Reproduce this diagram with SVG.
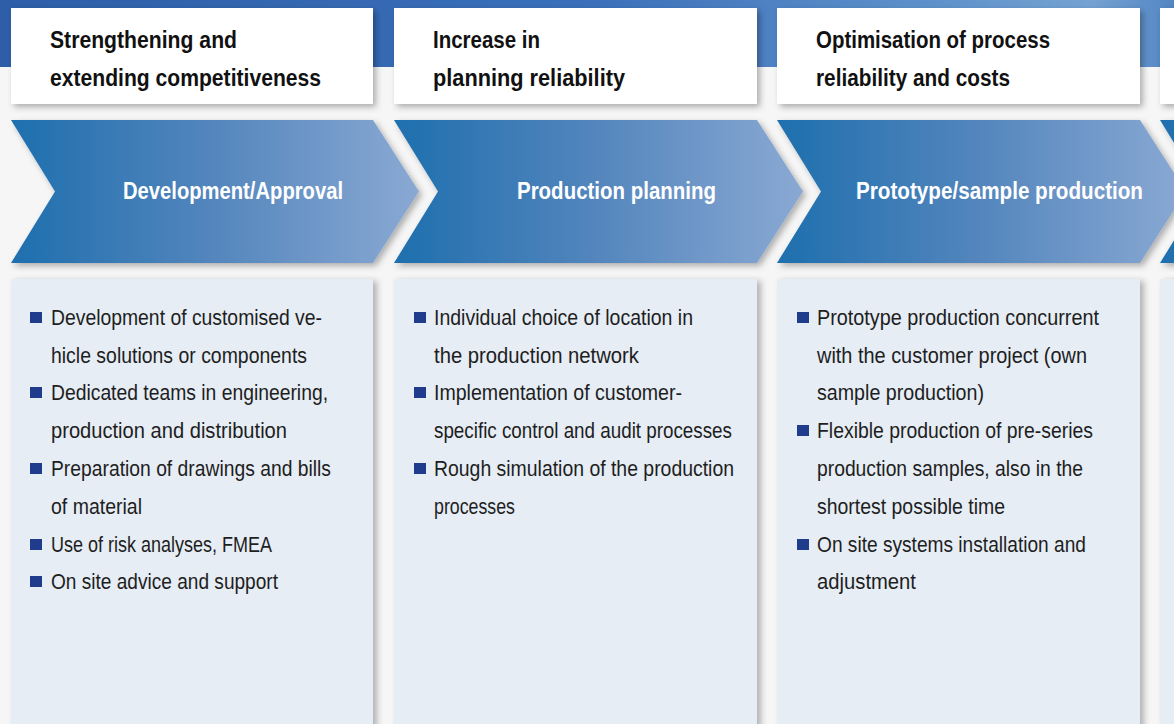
<svg xmlns="http://www.w3.org/2000/svg" width="1174" height="724" viewBox="0 0 1174 724">
<defs>
<linearGradient id="band" x1="0" y1="0" x2="1" y2="0">
<stop offset="0" stop-color="#2d5ea7"/>
<stop offset="0.5" stop-color="#3a70ba"/>
<stop offset="0.8" stop-color="#5f92cb"/>
<stop offset="0.93" stop-color="#74a2d2"/>
<stop offset="1" stop-color="#5386c3"/>
</linearGradient>
<linearGradient id="chev" x1="0" y1="0" x2="1" y2="0">
<stop offset="0" stop-color="#1e6fae"/>
<stop offset="0.5" stop-color="#5486bd"/>
<stop offset="1" stop-color="#8aa9d3"/>
</linearGradient>
<filter id="sh" x="-10%" y="-10%" width="130%" height="140%">
<feDropShadow dx="3" dy="3" stdDeviation="3" flood-color="#000" flood-opacity="0.3"/>
</filter>
<filter id="sh2" x="-10%" y="-10%" width="130%" height="130%">
<feDropShadow dx="4" dy="2" stdDeviation="3" flood-color="#000" flood-opacity="0.28"/>
</filter>
</defs>
<style>
.hdr{fill:#ffffff}
.hdrt{font-family:"Liberation Sans",Arial,sans-serif;font-weight:bold;font-size:23px;fill:#111111}
.chevt{font-family:"Liberation Sans",Arial,sans-serif;font-weight:bold;font-size:23px;fill:#ffffff;text-anchor:middle}
.panel{fill:#e6edf5}
.bt{font-family:"Liberation Sans",Arial,sans-serif;font-size:22px;fill:#1e1e1e}
.bul{fill:#1f3d8c}
</style>
<rect x="0" y="0" width="1174" height="724" fill="#f6f6f6"/>
<rect x="0" y="0" width="1174" height="67" fill="url(#band)"/>

<g id="col1">
<g id="header1" filter="url(#sh)"><rect class="hdr" x="11" y="8" width="362" height="96"/></g>
<text class="hdrt" x="50" y="48" textLength="187" lengthAdjust="spacingAndGlyphs">Strengthening and</text>
<text class="hdrt" x="50" y="86" textLength="271" lengthAdjust="spacingAndGlyphs">extending competitiveness</text>
<g id="chevron1" filter="url(#sh)"><path d="M11,120 H373 L419,191.5 L373,263 H11 L55,191.5 Z" fill="url(#chev)"/></g>
<text class="chevt" x="233" y="199" textLength="220" lengthAdjust="spacingAndGlyphs">Development/Approval</text>
<g id="panel1" filter="url(#sh2)"><rect class="panel" x="11" y="279" width="362" height="460"/></g>
<rect class="bul" x="30" y="312" width="12" height="11"/>
<text class="bt" x="51" y="325" textLength="271" lengthAdjust="spacingAndGlyphs">Development of customised ve-</text>
<text class="bt" x="51" y="363" textLength="256" lengthAdjust="spacingAndGlyphs">hicle solutions or components</text>
<rect class="bul" x="30" y="387" width="12" height="11"/>
<text class="bt" x="51" y="400" textLength="277" lengthAdjust="spacingAndGlyphs">Dedicated teams in engineering,</text>
<text class="bt" x="51" y="438" textLength="236" lengthAdjust="spacingAndGlyphs">production and distribution</text>
<rect class="bul" x="30" y="463" width="12" height="11"/>
<text class="bt" x="51" y="476" textLength="280" lengthAdjust="spacingAndGlyphs">Preparation of drawings and bills</text>
<text class="bt" x="51" y="514" textLength="91" lengthAdjust="spacingAndGlyphs">of material</text>
<rect class="bul" x="30" y="539" width="12" height="11"/>
<text class="bt" x="51" y="552" textLength="221" lengthAdjust="spacingAndGlyphs">Use of risk analyses, FMEA</text>
<rect class="bul" x="30" y="576" width="12" height="11"/>
<text class="bt" x="51" y="589" textLength="227" lengthAdjust="spacingAndGlyphs">On site advice and support</text>
</g>

<g id="col2">
<g id="header2" filter="url(#sh)"><rect class="hdr" x="394" y="8" width="363" height="96"/></g>
<text class="hdrt" x="433" y="48" textLength="107" lengthAdjust="spacingAndGlyphs">Increase in</text>
<text class="hdrt" x="433" y="86" textLength="192" lengthAdjust="spacingAndGlyphs">planning reliability</text>
<g id="chevron2" filter="url(#sh)"><path d="M394,120 H757 L803,191.5 L757,263 H394 L438,191.5 Z" fill="url(#chev)"/></g>
<text class="chevt" x="616.5" y="199" textLength="199" lengthAdjust="spacingAndGlyphs">Production planning</text>
<g id="panel2" filter="url(#sh2)"><rect class="panel" x="394" y="279" width="363" height="460"/></g>
<rect class="bul" x="414" y="312" width="12" height="11"/>
<text class="bt" x="434" y="325" textLength="259" lengthAdjust="spacingAndGlyphs">Individual choice of location in</text>
<text class="bt" x="434" y="363" textLength="205" lengthAdjust="spacingAndGlyphs">the production network</text>
<rect class="bul" x="414" y="387" width="12" height="11"/>
<text class="bt" x="434" y="400" textLength="248" lengthAdjust="spacingAndGlyphs">Implementation of customer-</text>
<text class="bt" x="434" y="438" textLength="298" lengthAdjust="spacingAndGlyphs">specific control and audit processes</text>
<rect class="bul" x="414" y="463" width="12" height="11"/>
<text class="bt" x="434" y="476" textLength="300" lengthAdjust="spacingAndGlyphs">Rough simulation of the production</text>
<text class="bt" x="434" y="514" textLength="81" lengthAdjust="spacingAndGlyphs">processes</text>
</g>

<g id="col3">
<g id="header3" filter="url(#sh)"><rect class="hdr" x="777" y="8" width="363" height="96"/></g>
<text class="hdrt" x="816" y="48" textLength="234" lengthAdjust="spacingAndGlyphs">Optimisation of process</text>
<text class="hdrt" x="816" y="86" textLength="194" lengthAdjust="spacingAndGlyphs">reliability and costs</text>
<g id="chevron3" filter="url(#sh)"><path d="M777,120 H1140 L1186,191.5 L1140,263 H777 L821,191.5 Z" fill="url(#chev)"/></g>
<text class="chevt" x="999.5" y="199" textLength="287" lengthAdjust="spacingAndGlyphs">Prototype/sample production</text>
<g id="panel3" filter="url(#sh2)"><rect class="panel" x="777" y="279" width="363" height="460"/></g>
<rect class="bul" x="797" y="312" width="12" height="11"/>
<text class="bt" x="817" y="325" textLength="282" lengthAdjust="spacingAndGlyphs">Prototype production concurrent</text>
<text class="bt" x="817" y="363" textLength="270" lengthAdjust="spacingAndGlyphs">with the customer project (own</text>
<text class="bt" x="817" y="400" textLength="167" lengthAdjust="spacingAndGlyphs">sample production)</text>
<rect class="bul" x="797" y="425" width="12" height="11"/>
<text class="bt" x="817" y="438" textLength="276" lengthAdjust="spacingAndGlyphs">Flexible production of pre-series</text>
<text class="bt" x="817" y="476" textLength="266" lengthAdjust="spacingAndGlyphs">production samples, also in the</text>
<text class="bt" x="817" y="514" textLength="188" lengthAdjust="spacingAndGlyphs">shortest possible time</text>
<rect class="bul" x="797" y="539" width="12" height="11"/>
<text class="bt" x="817" y="552" textLength="269" lengthAdjust="spacingAndGlyphs">On site systems installation and</text>
<text class="bt" x="817" y="589" textLength="99" lengthAdjust="spacingAndGlyphs">adjustment</text>
</g>

<g id="col4">
<g id="header4" filter="url(#sh)"><rect class="hdr" x="1160" y="8" width="363" height="96"/></g>
<g id="chevron4" filter="url(#sh)"><path d="M1160,120 H1523 L1569,191.5 L1523,263 H1160 L1204,191.5 Z" fill="url(#chev)"/></g>
<g id="panel4" filter="url(#sh2)"><rect class="panel" x="1160" y="279" width="363" height="460"/></g>
</g>
</svg>
